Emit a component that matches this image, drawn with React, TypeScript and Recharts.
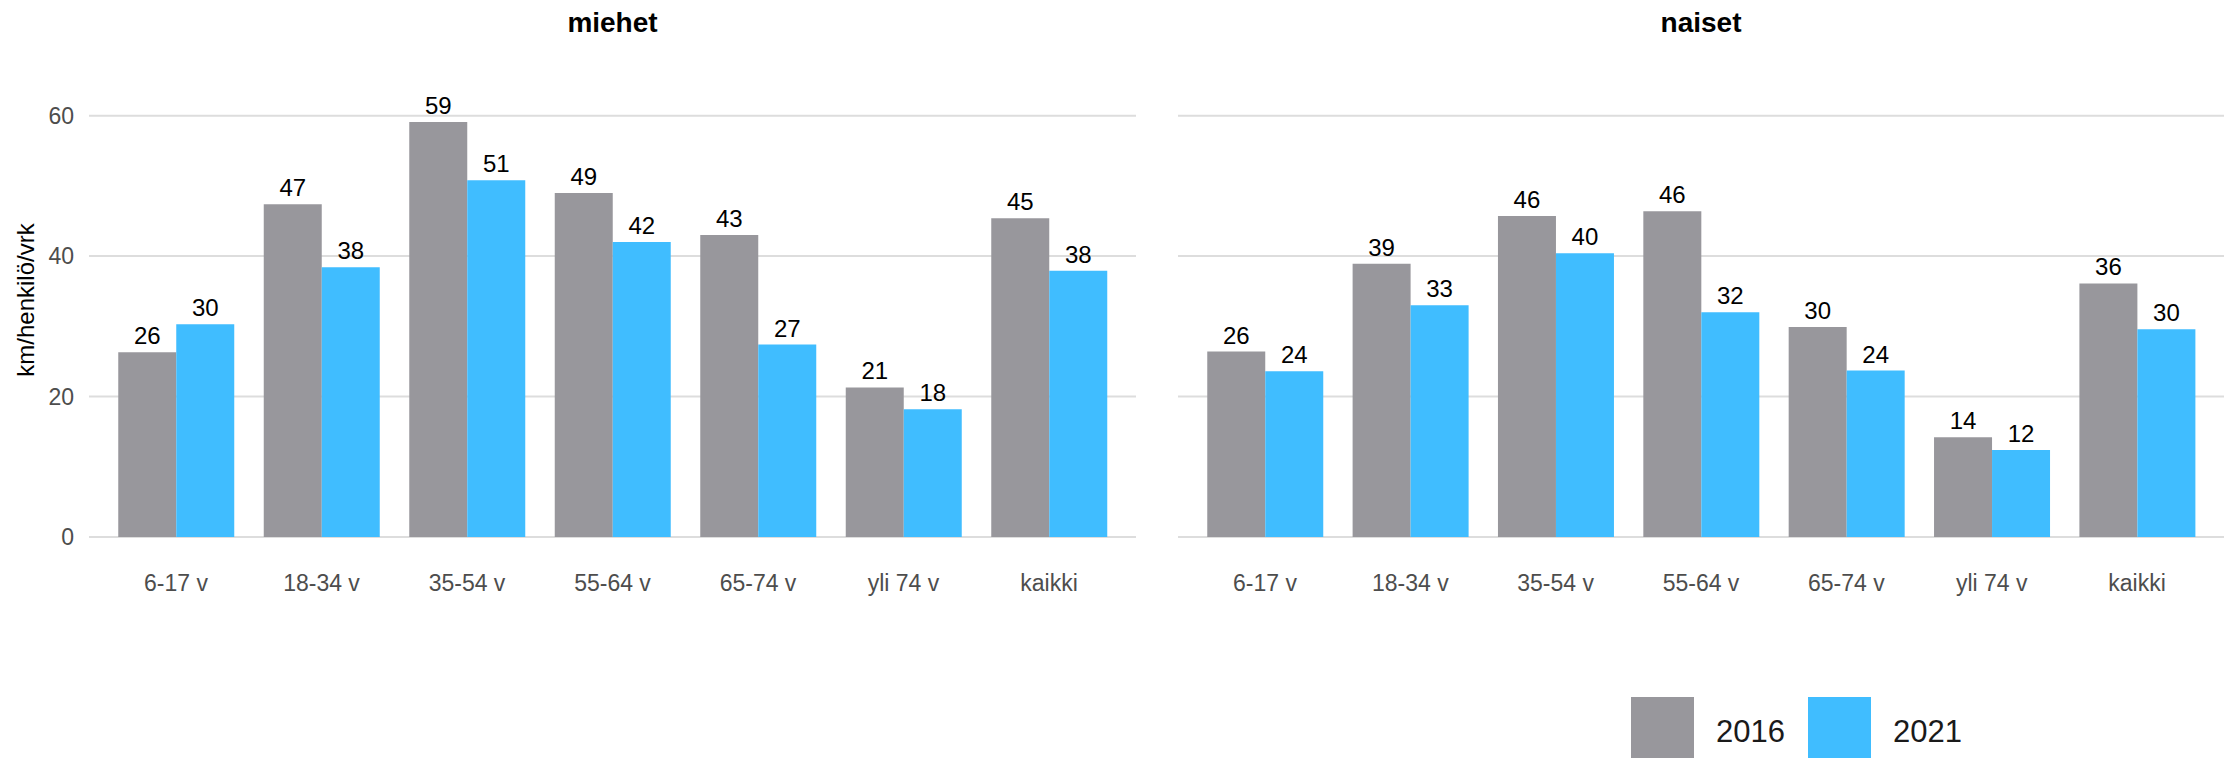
import { Bar, BarChart, CartesianGrid, LabelList, Legend, XAxis, YAxis } from "recharts";

const ageGroups = ["6-17 v", "18-34 v", "35-54 v", "55-64 v", "65-74 v", "yli 74 v", "kaikki"];
const men2016 = [26.3, 47.4, 59.1, 49.0, 43.0, 21.3, 45.4];
const men2021 = [30.3, 38.4, 50.8, 42.0, 27.4, 18.2, 37.9];
const women2016 = [26.4, 38.9, 45.7, 46.4, 29.9, 14.2, 36.1];
const women2021 = [23.6, 33.0, 40.4, 32.0, 23.7, 12.4, 29.6];
const yTicks = [0, 20, 40, 60];

const FONT = "'Liberation Sans', Arial, sans-serif";
const GREY = "#98979c";
const BLUE = "#40bdff";

type Row = { ika: string; v2016: number; v2021: number };

function buildRows(a: number[], b: number[]): Row[] {
    return ageGroups.map((ika, i) => ({ ika, v2016: a[i], v2021: b[i] }));
}

const renderLegend = (props: any) => {
    const items = props.payload || [];
    return (
        <div style={{ display: "flex", alignItems: "flex-start" }}>
            {items.map((p: any) => (
                <div key={p.value} style={{ display: "flex", alignItems: "center", marginRight: 23 }}>
                    <div style={{ width: 63, height: 63, background: p.color }} />
                    <span style={{ marginLeft: 22, fontSize: 31, color: "#1a1a1a", paddingTop: 6 }}>{p.value}</span>
                </div>
            ))}
        </div>
    );
};

const Panel = ({ rows, showY, showLegend, width }: { rows: Row[]; showY: boolean; showLegend: boolean; width: number }) => (
    <BarChart
        width={width}
        height={758}
        data={rows}
        margin={{ top: 63, right: 5, left: 0, bottom: 161 }}
        barGap={0}
        barSize={58}
    >
        <CartesianGrid horizontal={true} vertical={false} stroke="#dddddd" strokeWidth={2} syncWithTicks={true} />
        <XAxis
            dataKey="ika"
            axisLine={false}
            tickLine={false}
            tickSize={0}
            tickMargin={38}
            height={60}
            padding={{ left: 14.25, right: 14.25 }}
            tick={{ fill: "#4d4d4d", fontSize: 23 }}
            interval={0}
        />
        <YAxis
            hide={!showY}
            width={89}
            domain={[0, 67.5]}
            ticks={yTicks}
            axisLine={false}
            tickLine={false}
            tickSize={0}
            tickMargin={15}
            tick={{ fill: "#4d4d4d", fontSize: 23 }}
            label={showY ? {
                value: "km/henkilö/vrk",
                angle: -90,
                position: "insideLeft",
                offset: 25,
                fill: "#000",
                fontSize: 24,
                style: { textAnchor: "middle" },
            } : undefined}
        />
        {showLegend && (
            <Legend
                layout="horizontal"
                verticalAlign="middle"
                align="center"
                content={renderLegend}
                wrapperStyle={{ left: 453, top: 697, width: 420 }}
            />
        )}
        <Bar dataKey="v2016" name="2016" fill={GREY} isAnimationActive={false}>
            <LabelList dataKey="v2016" position="top" offset={8} fill="#000" fontSize={24} formatter={(v: any) => Math.round(Number(v))} />
        </Bar>
        <Bar dataKey="v2021" name="2021" fill={BLUE} isAnimationActive={false}>
            <LabelList dataKey="v2021" position="top" offset={8} fill="#000" fontSize={24} formatter={(v: any) => Math.round(Number(v))} />
        </Bar>
    </BarChart>
);

const titleStyle = (left: number, width: number): React.CSSProperties => ({
    position: "absolute",
    left,
    width,
    top: 9,
    textAlign: "center",
    fontSize: 28,
    lineHeight: "28px",
    fontWeight: "bold",
    color: "#000",
});

export default function App() {
    return (
        <div style={{ position: "absolute", left: 0, top: 0, width: 2234, height: 758, overflow: "hidden", background: "#fff", fontFamily: FONT }}>
            <div style={{ position: "absolute", left: 0, top: 0 }}>
                <Panel rows={buildRows(men2016, men2021)} showY={true} showLegend={false} width={1141} />
            </div>
            <div style={{ position: "absolute", left: 1178, top: 0 }}>
                <Panel rows={buildRows(women2016, women2021)} showY={false} showLegend={true} width={1051} />
            </div>
            <div style={titleStyle(89, 1047)}>miehet</div>
            <div style={titleStyle(1178, 1046)}>naiset</div>
        </div>
    );
}
